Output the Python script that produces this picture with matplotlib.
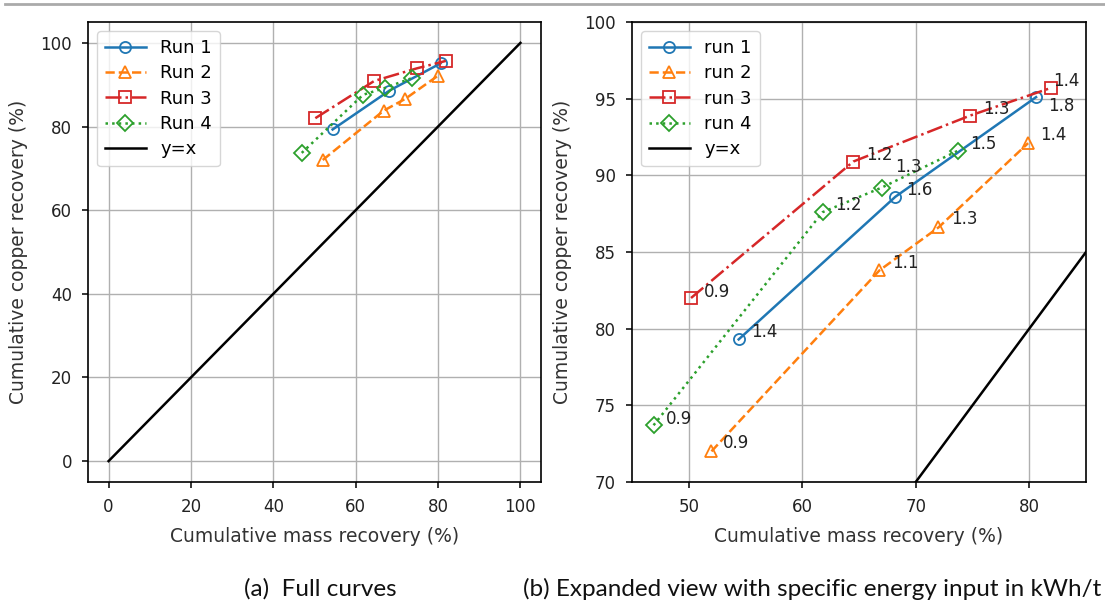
import matplotlib
matplotlib.use("Agg")
import matplotlib.pyplot as plt
from matplotlib.lines import Line2D

# ---- data ----
run1_x = [54.4, 68.2, 80.6]
run1_y = [79.3, 88.6, 95.1]
run1_e = ["1.4", "1.6", "1.8"]

run2_x = [52.0, 66.8, 72.0, 79.9]
run2_y = [72.0, 83.8, 86.6, 92.1]
run2_e = ["0.9", "1.1", "1.3", "1.4"]

run3_x = [50.2, 64.5, 74.8, 81.9]
run3_y = [82.0, 90.9, 93.9, 95.7]
run3_e = ["0.9", "1.2", "1.3", "1.4"]

run4_x = [46.9, 61.8, 67.0, 73.7]
run4_y = [73.7, 87.6, 89.2, 91.6]
run4_e = ["0.9", "1.2", "1.3", "1.5"]

diag = [0, 100]
ticks_full = [0, 20, 40, 60, 80, 100]
ticks_zoom_x = [50, 60, 70, 80]
ticks_zoom_y = [70, 75, 80, 85, 90, 95, 100]

# ---- style ----
styles = [
    dict(color="#1f77b4", ls="-", marker="o"),
    dict(color="#ff7f0e", ls="--", marker="^"),
    dict(color="#d62728", ls="-.", marker="s"),
    dict(color="#2ca02c", ls=":", marker="D"),
]
# label offsets in points (x, y)
offs = [
    [(9, 5), (8, 5), (9, -6.5)],
    [(8, 6), (9, 5), (9, 6), (9, 6)],
    [(9, 4.5), (9, 5), (9, 4.5), (2, 5)],
    [(9, 4.5), (9, 5), (9.5, 15), (9, 5)],
]

series = [(run1_x, run1_y, run1_e), (run2_x, run2_y, run2_e),
          (run3_x, run3_y, run3_e), (run4_x, run4_y, run4_e)]

plt.rcParams["font.family"] = ["DejaVu Sans"]
plt.rcParams["font.size"] = 12
fig = plt.figure(figsize=(11.05, 6.01), dpi=100)

axL = fig.add_axes([88/1105, 1-482/601, 453/1105, 460/601])
axR = fig.add_axes([632/1105, 1-482/601, 454/1105, 460/601])

lw = 1.8
ms = 8

for i, (x, y, e) in enumerate(series):
    st = styles[i]
    axL.plot(x, y, color=st["color"], ls=st["ls"], marker=st["marker"],
             mfc="none", ms=ms, lw=lw, mew=1.3, label=f"Run {i+1}")
    axR.plot(x, y, color=st["color"], ls=st["ls"], marker=st["marker"],
             mfc="none", ms=ms, lw=lw, mew=1.3, label=f"run {i+1}")
    for j, (xx, yy, lab) in enumerate(zip(x, y, e)):
        axR.annotate(lab, (xx, yy), xytext=offs[i][j], textcoords="offset points",
                     ha="left", va="center", fontsize=12, color="#222222")

axL.plot(diag, diag, color="black", lw=lw, label="y=x")
axR.plot(diag, diag, color="black", lw=lw, label="y=x")

axL.set_xlim(-5, 105)
axL.set_ylim(-5, 105)
axL.set_xticks(ticks_full)
axL.set_yticks(ticks_full)

axR.set_xlim(45, 85)
axR.set_ylim(70, 100)
axR.set_xticks(ticks_zoom_x)
axR.set_yticks(ticks_zoom_y)

for ax in (axL, axR):
    ax.grid(True, color="#b0b0b0", lw=1.0)
    ax.set_axisbelow(True)
    ax.tick_params(labelsize=12, length=4.5, width=1.1, pad=7, labelcolor="#222222")
    for s in ax.spines.values():
        s.set_linewidth(1.2)
    ax.set_xlabel("Cumulative mass recovery (%)", fontsize=13.5, color="#333333", labelpad=8)
    ax.set_ylabel("Cumulative copper recovery (%)", fontsize=13.5, color="#333333", labelpad=9)
    ax.legend(loc="upper left", fontsize=13, handlelength=2.25, borderpad=0.45,
              labelspacing=0.4, framealpha=0.8)

# top rule
fig.add_artist(Line2D([5/1105, 1.0], [1-3.5/601, 1-3.5/601], color="#aaaaaa", lw=2))

# captions
fig.text(244/1105, 1-589/601, "(a)  Full curves", fontsize=17.5, family="Lato",
         ha="left", va="center", color="#111111")
fig.text(523/1105, 1-589/601, "(b) Expanded view with specific energy input in kWh/t",
         fontsize=17.5, family="Lato", ha="left", va="center", color="#111111")

fig.savefig("out.png", dpi=100)
